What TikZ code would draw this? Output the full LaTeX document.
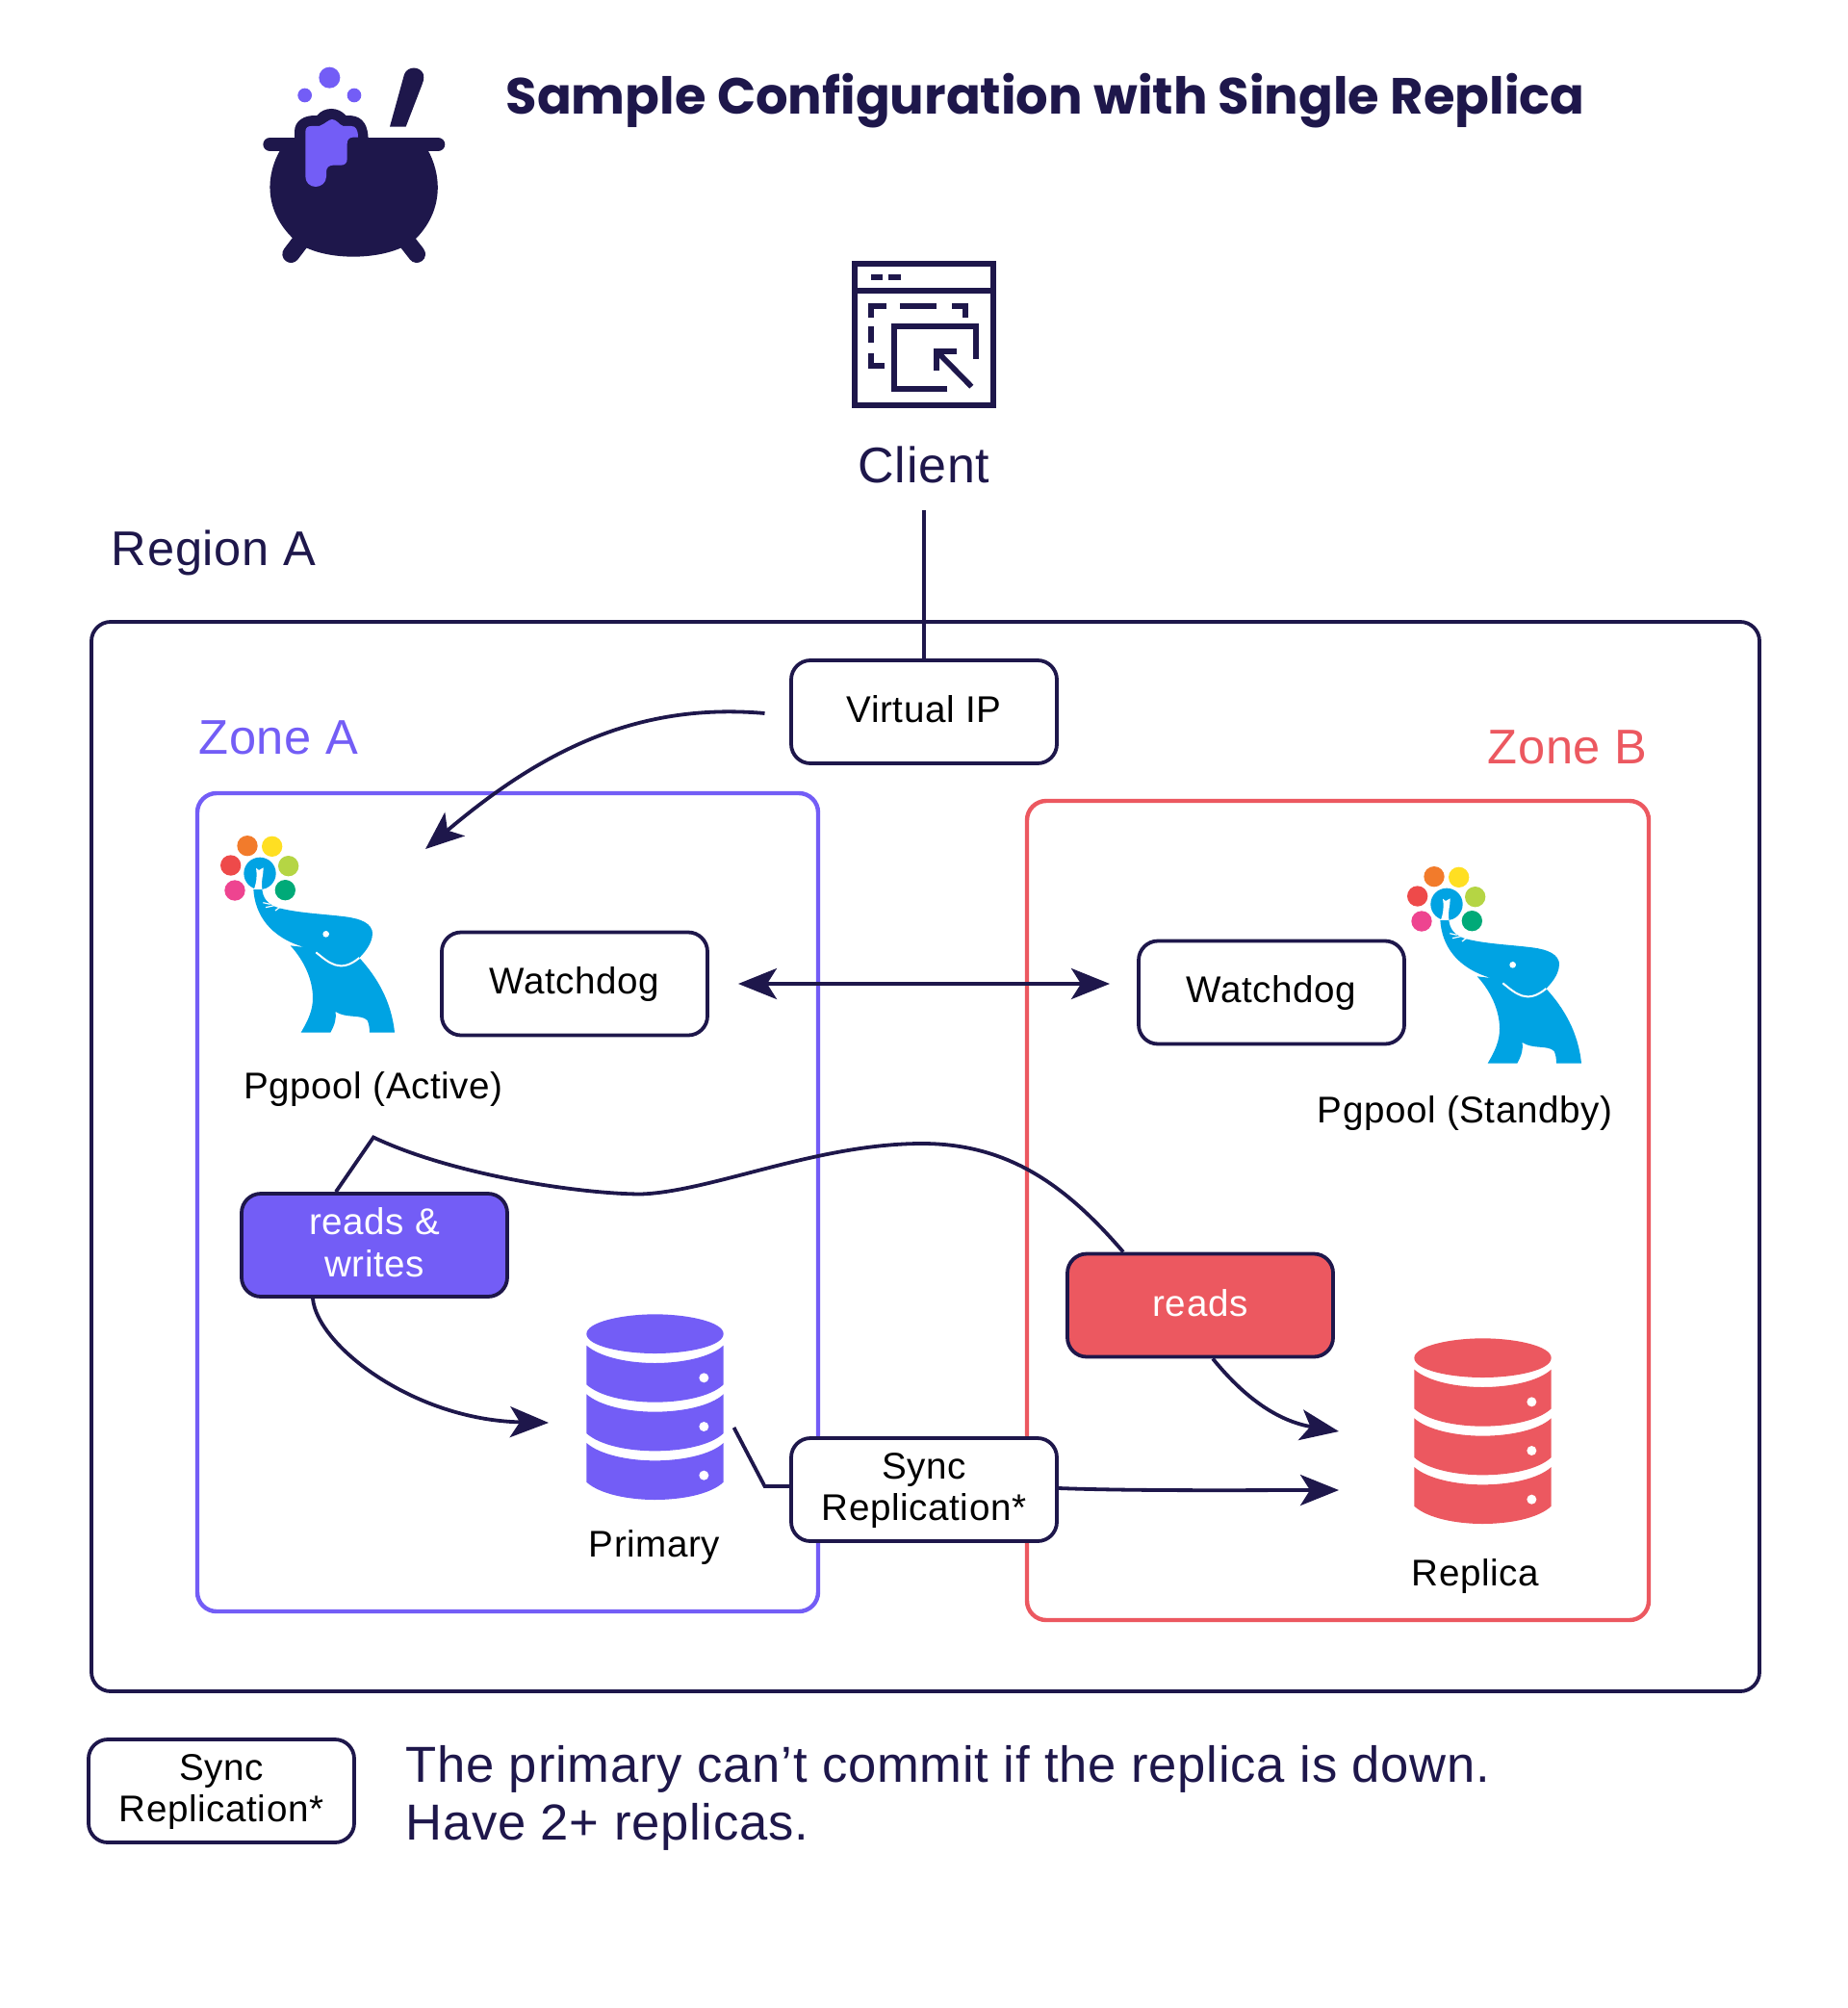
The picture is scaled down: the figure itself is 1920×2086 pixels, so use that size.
\documentclass[tikz,border=0pt]{standalone}
\usepackage{fontspec}
\usetikzlibrary{arrows.meta}
\setmainfont{Liberation Sans}[LetterSpace=1.5]
\newfontfamily\titlefont{Poppins}[BoldFont=* Bold]
\definecolor{ink}{HTML}{1E174B}
\definecolor{violetz}{HTML}{735DF6}
\definecolor{redz}{HTML}{EC5860}
\definecolor{eleph}{HTML}{00A3E3}
\definecolor{dotred}{HTML}{EE4A4A}
\definecolor{dotorange}{HTML}{F27B2B}
\definecolor{dotyellow}{HTML}{FFDF22}
\definecolor{dotlime}{HTML}{B5D544}
\definecolor{dotgreen}{HTML}{00AA78}
\definecolor{dotpink}{HTML}{EE4490}
\tikzset{
  box/.style={draw=ink,line width=1.9pt,rounded corners=10pt,minimum width=138pt,minimum height=53.5pt,inner sep=0pt,align=center,text depth=3pt,font=\fontsize{19.3}{21.6}\selectfont,text=black},
  big/.style={font=\fontsize{25.3}{30}\selectfont,text=ink,inner sep=0pt},
  smalltext/.style={font=\fontsize{19.3}{22}\selectfont,text=black,inner sep=0pt},
  link/.style={draw=ink,line width=1.9pt},
  arr/.style={link,-{Stealth[length=20pt,width=16pt,inset=5pt]}},
  pics/dbase/.style={code={
    \begin{scope}[scale=1/3]
      \fill[#1] (58,107) .. controls (58,70) and (170,46) .. (271,46) .. controls (375,46) and (485,70) .. (485,107) .. controls (485,145) and (375,168) .. (271,168) .. controls (170,168) and (58,145) .. (58,107) -- cycle;
      \foreach \d in {0,152,304}{
        \fill[#1] (58,143+\d) .. controls (100,180+\d) and (190,198+\d) .. (271,198+\d) .. controls (355,198+\d) and (445,180+\d) .. (485,143+\d) -- (485,265+\d) .. controls (445,303+\d) and (355,320+\d) .. (271,320+\d) .. controls (190,320+\d) and (100,303+\d) .. (58,265+\d) -- cycle;
        \fill[white] (424,244+\d) circle (15);
      }
    \end{scope}}},
  pics/elephant/.style={code={
    \begin{scope}[scale=1/3]
      \fill[dotred] (89,147) circle (32);
      \fill[dotorange] (141,86) circle (32);
      \fill[dotyellow] (218,88) circle (32);
      \fill[dotlime] (269,149) circle (32);
      \fill[dotgreen] (259,224) circle (32);
      \fill[dotpink] (102,225) circle (32);
      \fill[eleph] (180,172) circle (50);
      \fill[white] (160,226) .. controls (170,200) and (172,180) .. (168,155) -- (177,162) -- (191,154) .. controls (192,175) and (182,195) .. (188,226) -- cycle;
      \fill[eleph] (160,222) .. controls (165,300) and (210,370) .. (318,402) -- (275,397) .. controls (315,440) and (345,500) .. (345,560) .. controls (345,600) and (330,630) .. (308,668) -- (400,668) .. controls (415,640) and (418,625) .. (416,603) .. controls (450,625) and (495,610) .. (515,630) .. controls (520,640) and (522,655) .. (522,668) -- (600,668) .. controls (590,570) and (545,495) .. (490,435) .. controls (515,410) and (535,380) .. (530,350) .. controls (520,320) and (480,310) .. (430,305) .. controls (370,298) and (300,295) .. (240,280) .. controls (205,270) and (190,250) .. (187,222) -- cycle;
      \draw[white,line width=1pt] (355,418) .. controls (395,450) and (430,485) .. (490,435);
      \draw[white,line width=.6pt] (190,263) -- (212,268) (198,278) -- (225,272) (228,288) -- (245,275);
      \fill[white] (386,361) circle (10);
    \end{scope}}},
  pics/pot/.style={code={
    \begin{scope}[scale=1/3]
      \fill[violetz] (307,122) circle (33) (230,177) circle (22) (384,177) circle (22);
      \draw[ink,line width=9pt,line cap=round] (187,672) -- (225,622) (579,672) -- (540,622);
      \fill[ink] (495,275) -- (540,112) .. controls (550,85) and (590,85) .. (600,112) .. controls (602,125) and (600,135) .. (595,145) -- (545,275) -- cycle;
      \draw[ink,line width=7.3pt,line cap=round] (122,330) -- (645,330);
      \fill[ink] (155,345) .. controls (110,420) and (100,530) .. (190,620) .. controls (260,700) and (500,700) .. (580,620) .. controls (665,530) and (655,420) .. (612,345) -- cycle;
      \fill[ink] (198,320) -- (198,290) .. controls (198,255) and (230,238) .. (268,240) .. controls (290,212) and (335,212) .. (358,240) .. controls (400,238) and (428,255) .. (428,320) -- cycle;
      \fill[violetz] (232,290) .. controls (232,278) and (240,273) .. (250,273) -- (275,273) .. controls (295,265) and (305,252) .. (315,252) .. controls (330,252) and (335,268) .. (350,273) -- (375,273) .. controls (388,273) and (396,283) .. (396,308) -- (380,308) .. controls (368,308) and (362,316) .. (362,328) -- (362,375) .. controls (362,388) and (355,395) .. (342,395) -- (318,395) .. controls (305,395) and (297,403) .. (297,416) -- (297,430) .. controls (297,450) and (280,462) .. (264,462) .. controls (245,462) and (232,448) .. (232,430) -- cycle;
    \end{scope}}},
  pics/clientic/.style={code={
    \begin{scope}[scale=1/3,draw=ink,line width=2.85pt]
      \draw (114,72) rectangle (545,512);
      \draw (114,157) -- (545,157);
      \draw (165,113) -- (202,113) (220,113) -- (257,113);
      \draw (165,240) -- (165,205) -- (213,205);
      \draw (256,205) -- (369,205);
      \draw (417,205) -- (459,205) -- (459,240);
      \draw (165,267) -- (165,317);
      \draw (165,351) -- (165,390) -- (206,390);
      \draw (403,461) -- (238,461) -- (238,268) -- (493,268) -- (493,369);
      \draw (369,406) -- (369,344) -- (433,344);
      \draw (369,344) -- (478,455);
    \end{scope}}}
}
\begin{document}
\begin{tikzpicture}[x=0.5pt,y=-0.5pt]
\useasboundingbox (0,0) rectangle (1920,2086);
\fill[white] (0,0) rectangle (1920,2086);

\pic at (240,40) {pot};
\node[inner sep=0pt,text=ink,font=\titlefont\bfseries\fontsize{26.4}{30}\selectfont] (title) at (1086,105) {Sample Configuration with Single Replica};

\pic at (850,250) {clientic};
\node[big,font=\fontsize{26}{30}\selectfont] (clientlabel) at (960,483) {Client};
\node[big,anchor=west] (regionlabel) at (115.5,574) {Region A};

% containers
\draw[draw=ink,line width=1.9pt,rounded corners=10pt] (95,646) rectangle (1828,1757);
\node[draw=violetz,line width=2.2pt,rounded corners=10pt,minimum width=322.5pt,minimum height=425pt,inner sep=0pt] (zonea) at (527.5,1249) {};
\node[draw=redz,line width=2.2pt,rounded corners=10pt,minimum width=323pt,minimum height=425.5pt,inner sep=0pt] (zoneb) at (1390,1257.5) {};
\node[big,anchor=west,text=violetz] (zonealabel) at (206,766) {Zone A};
\node[big,anchor=east,text=redz] (zoneblabel) at (1712,776) {Zone B};

% free ends
\coordinate (clientend) at (960,530);
\coordinate (vipout) at (794.5,741);
\coordinate (pgin) at (442,882);
\coordinate (wl) at (767,1022);
\coordinate (wr) at (1153,1022);
\coordinate (apex) at (388,1181.5);
\coordinate (valley) at (665.5,1240.5);
\coordinate (prin) at (570,1478);
\coordinate (repin) at (1391,1487);
\coordinate (repsync) at (1391,1548);
\coordinate (prout) at (762.5,1483);
\coordinate (elbow) at (794.5,1544);

% boxes
\node[box,fill=white] (vip) at (960,739.5) {Virtual IP};
\node[box,fill=white] (wda) at (597,1022) {Watchdog};
\node[box,fill=white] (wdb) at (1321,1031) {Watchdog};
\node[box,fill=violetz,text=white] (rw) at (389,1293.5) {reads \&\\writes};
\node[box,fill=redz,text=white] (rd) at (1247,1356) {reads};
\node[box,fill=white] (sync) at (960,1547.5) {Sync\\Replication*};
\node[box,fill=white] (legend) at (230,1860.5) {Sync\\Replication*};

% connectors
\draw[link] (clientend) -- (vip.north);
\draw[arr] (vipout) .. controls (659,729) and (559,783) .. (pgin);
\draw[link,{Stealth[length=20pt,width=16pt,inset=5pt]}-{Stealth[length=20pt,width=16pt,inset=5pt]}] (wl) -- (wr);
\draw[link] (rw.north -| 349,0) -- (apex) .. controls (469,1220) and (599,1240) .. (valley) .. controls (739,1238) and (848,1188) .. (958,1188) .. controls (1048,1188) and (1108,1232) .. (rd.north -| 1167,0);
\draw[arr] (rw.south -| 325,0) .. controls (329,1397) and (429,1475) .. (prin);
\draw[arr] (rd.south -| 1260,0) .. controls (1297,1457) and (1332,1477) .. (repin);
\draw[arr] (sync.east |- 0,1546) .. controls (1178,1549) and (1298,1548) .. (repsync);
\draw[link] (prout) -- (elbow) -- (sync.west |- elbow);

% icons
\pic at (590,1350) {dbase=violetz};
\pic at (1450,1375) {dbase=redz};
\pic at (210,850) {elephant};
\pic at (1443,882) {elephant};

% captions
\node[smalltext] (pga) at (388,1132) {Pgpool (Active)};
\node[smalltext] (pgb) at (1522,1157) {Pgpool (Standby)};
\node[smalltext] (prl) at (680,1607) {Primary};
\node[smalltext] (rel) at (1533,1637) {Replica};
\node[big,anchor=west,font=\fontsize{26.3}{30}\selectfont] (l1) at (421,1838) {The primary can’t commit if the replica is down.};
\node[big,anchor=west,font=\fontsize{26.3}{30}\selectfont] (l2) at (421,1898) {Have 2+ replicas.};
\end{tikzpicture}
\end{document}
